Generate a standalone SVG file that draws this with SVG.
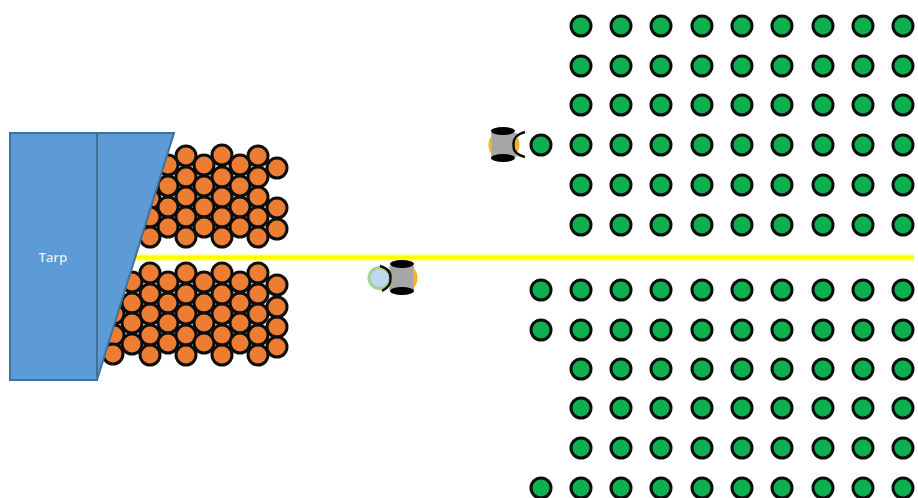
<svg xmlns="http://www.w3.org/2000/svg" width="918" height="498" viewBox="0 0 918 498">
<style>
.o{fill:#ed7d31;stroke:#111;stroke-width:3}
.g{fill:#0cb04f;stroke:#111;stroke-width:3}
.t{fill:#5b9bd5;stroke:#41719c;stroke-width:2}
.w{fill:#000}
.a{fill:none;stroke:#111;stroke-width:2.4}
text{font-family:"Open Sans","Liberation Sans",sans-serif;font-size:13px;font-weight:600;fill:#e6f0f9;text-anchor:middle}
</style>
<defs>
<filter id="b" x="-5%" y="-5%" width="110%" height="110%"><feGaussianBlur stdDeviation="0.7"/></filter>
<circle id="oc" class="o" r="10"/>
<circle id="gc" class="g" r="10"/>
<g id="row">
<use href="#gc" x="581"/><use href="#gc" x="621"/><use href="#gc" x="661"/><use href="#gc" x="702"/><use href="#gc" x="742"/><use href="#gc" x="782"/><use href="#gc" x="823"/><use href="#gc" x="863"/><use href="#gc" x="903"/>
</g>
</defs>
<rect width="918" height="498" fill="#fff"/>
<g id="line" filter="url(#b)"><rect x="130" y="254" width="784" height="7" fill="#fdfdb0"/><rect x="130" y="255.500" width="784" height="4" fill="#ffff00"/></g>
<g id="stones-top" filter="url(#b)">
<use href="#oc" x="150" y="199"/><use href="#oc" x="150" y="217"/><use href="#oc" x="150" y="237"/>
<use href="#oc" x="168" y="165"/><use href="#oc" x="168" y="186"/><use href="#oc" x="168" y="207"/><use href="#oc" x="168" y="227"/>
<use href="#oc" x="186" y="156"/><use href="#oc" x="186" y="177"/><use href="#oc" x="186" y="197"/><use href="#oc" x="186" y="217"/><use href="#oc" x="186" y="237"/>
<use href="#oc" x="204" y="165"/><use href="#oc" x="204" y="186"/><use href="#oc" x="204" y="207"/><use href="#oc" x="204" y="227"/>
<use href="#oc" x="222" y="155"/><use href="#oc" x="222" y="177"/><use href="#oc" x="222" y="197"/><use href="#oc" x="222" y="217"/><use href="#oc" x="222" y="237"/>
<use href="#oc" x="240" y="165"/><use href="#oc" x="240" y="186"/><use href="#oc" x="240" y="207"/><use href="#oc" x="240" y="227"/>
<use href="#oc" x="258" y="156"/><use href="#oc" x="258" y="177"/><use href="#oc" x="258" y="197"/><use href="#oc" x="258" y="217"/><use href="#oc" x="258" y="237"/>
<use href="#oc" x="277" y="168"/><use href="#oc" x="277" y="208"/><use href="#oc" x="277" y="229"/>
</g>
<g id="stones-bottom" filter="url(#b)">
<use href="#oc" x="114" y="314"/><use href="#oc" x="114" y="335"/><use href="#oc" x="113" y="354"/>
<use href="#oc" x="132" y="282"/><use href="#oc" x="132" y="303"/><use href="#oc" x="132" y="323"/><use href="#oc" x="132" y="344"/>
<use href="#oc" x="150" y="273"/><use href="#oc" x="150" y="294"/><use href="#oc" x="150" y="314"/><use href="#oc" x="150" y="335"/><use href="#oc" x="150" y="355"/>
<use href="#oc" x="168" y="282"/><use href="#oc" x="168" y="303"/><use href="#oc" x="168" y="323"/><use href="#oc" x="168" y="343"/>
<use href="#oc" x="186" y="273"/><use href="#oc" x="186" y="294"/><use href="#oc" x="186" y="314"/><use href="#oc" x="186" y="335"/><use href="#oc" x="186" y="355"/>
<use href="#oc" x="204" y="282"/><use href="#oc" x="204" y="303"/><use href="#oc" x="204" y="323"/><use href="#oc" x="204" y="343"/>
<use href="#oc" x="222" y="273"/><use href="#oc" x="222" y="294"/><use href="#oc" x="222" y="314"/><use href="#oc" x="222" y="335"/><use href="#oc" x="222" y="355"/>
<use href="#oc" x="240" y="282"/><use href="#oc" x="240" y="303"/><use href="#oc" x="240" y="323"/><use href="#oc" x="240" y="343"/>
<use href="#oc" x="258" y="273"/><use href="#oc" x="258" y="294"/><use href="#oc" x="258" y="314"/><use href="#oc" x="258" y="335"/><use href="#oc" x="258" y="355"/>
<use href="#oc" x="277" y="285"/><use href="#oc" x="277" y="307"/><use href="#oc" x="277" y="327"/><use href="#oc" x="277" y="347"/>
</g>
<g id="tarp" filter="url(#b)">
<rect class="t" x="10" y="133" width="87" height="247"/>
<polygon class="t" points="97,133 174,133 97,380"/>
</g>
<text x="53" y="262" filter="url(#b)">Tarp</text>
<g id="green-field" filter="url(#b)">
<use href="#row" y="26"/><use href="#row" y="66"/><use href="#row" y="105"/><use href="#row" y="145"/><use href="#row" y="185"/><use href="#row" y="225"/>
<use href="#row" y="290"/><use href="#row" y="330"/><use href="#row" y="369"/><use href="#row" y="408"/><use href="#row" y="448"/><use href="#row" y="488"/>
<use href="#gc" x="541" y="145"/><use href="#gc" x="541" y="290"/><use href="#gc" x="541" y="330"/><use href="#gc" x="541" y="488"/>
</g>
<g id="robot-1" filter="url(#b)">
<circle cx="504" cy="145" r="15.500" fill="#f4b130"/>
<path d="M491,133 H517 Q513,145 517,157 H491 Q493,145 491,133Z" fill="#a6a6a6"/>
<ellipse class="w" cx="503" cy="131" rx="12" ry="4"/>
<ellipse class="w" cx="503" cy="158" rx="12" ry="4"/>
<path class="a" d="M525,132 C517,134 513,139 513.500,145 C513,151 517,155 525,157"/>
</g>
<g id="robot-2" filter="url(#b)">
<circle cx="402" cy="278" r="15.500" fill="#f4b130"/>
<path d="M389,266 H414 Q412,278 414,290 H389 Q393,278 389,266Z" fill="#a6a6a6"/>
<ellipse class="w" cx="402" cy="264" rx="12" ry="4"/>
<ellipse class="w" cx="402" cy="291" rx="12" ry="4"/>
<circle cx="379.500" cy="278" r="10.500" fill="#bdd7ee" stroke="#a9d18e" stroke-width="3"/>
<path class="a" d="M380,266 C387,268 391,272 390.500,278 C391,284 388,288 382,291"/>
</g>
</svg>
